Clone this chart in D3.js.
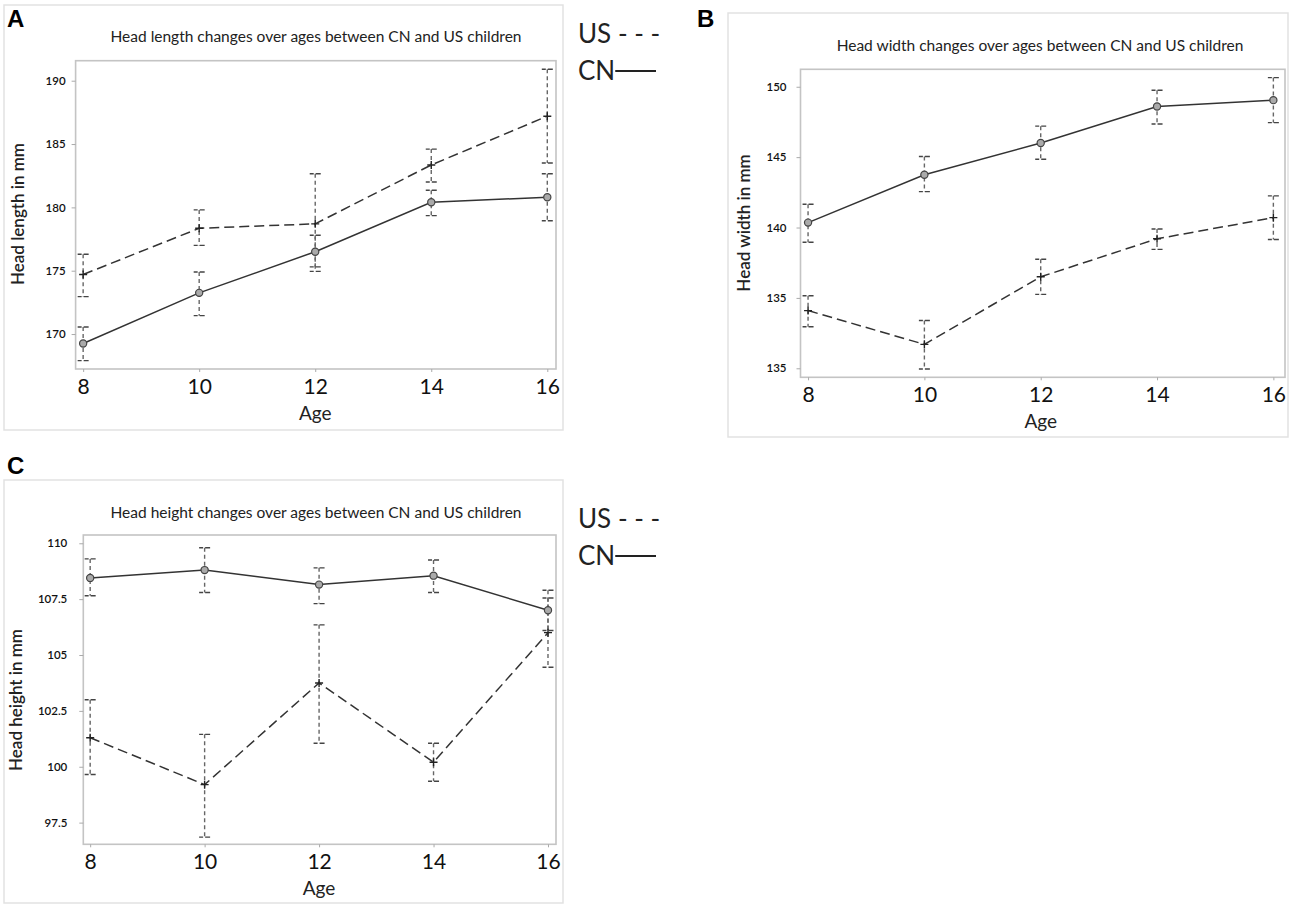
<!DOCTYPE html>
<html>
<head>
  <meta charset="utf-8"/>
  <title>Head size CN vs US</title>
  <script src="https://cdn.jsdelivr.net/npm/d3@7"></script>
  <style>
    body { margin: 0; background: #fff; }
    svg { display: block; }
    .title { font-family: Lato, "Open Sans", sans-serif; fill: #222; }
    .tick text { font-family: Lato, sans-serif; fill: #111; }
  </style>
</head>
<body>
<div id="chart"></div>
<script>

// ages on x axis
var ages = [8, 10, 12, 14, 16];

// panel A - head length (mm)
var lengthCN   = [169.25, 173.25, 176.5, 180.4, 180.8];
var lengthCNhi = [170.55, 174.9, 177.8, 181.35, 182.65];
var lengthCNlo = [167.9, 171.45, 175.3, 179.35, 178.95];
var lengthUS   = [174.7, 178.35, 178.7, 183.35, 187.2];
var lengthUShi = [176.3, 179.8, 182.65, 184.6, 190.9];
var lengthUSlo = [172.95, 177.0, 174.95, 182.0, 183.5];
var lengthTicks = [170, 175, 180, 185, 190];

// panel B - head width (mm)
var widthCN   = [140.35, 143.75, 146.0, 148.6, 149.05];
var widthCNhi = [141.65, 145.05, 147.2, 149.75, 150.65];
var widthCNlo = [138.95, 142.55, 144.85, 147.35, 147.45];
var widthUS   = [134.1, 131.7, 136.5, 139.2, 140.7];
var widthUShi = [135.15, 133.4, 137.75, 139.9, 142.25];
var widthUSlo = [132.95, 129.95, 135.25, 138.45, 139.15];
var widthTicks = [130, 135, 140, 145, 150];
var widthTickLabels = ["135", "135", "140", "145", "150"];

// panel C - head height (mm)
var heightCN   = [108.45, 108.8, 108.15, 108.55, 107.0];
var heightCNhi = [109.3, 109.8, 108.9, 109.25, 107.9];
var heightCNlo = [107.65, 107.8, 107.3, 107.8, 106.1];
var heightUS   = [101.3, 99.2, 103.75, 100.2, 106.0];
var heightUShi = [103.0, 101.45, 106.35, 101.05, 107.55];
var heightUSlo = [99.65, 96.85, 101.05, 99.35, 104.45];
var heightTicks = [97.5, 100, 102.5, 105, 107.5, 110];

var svg = d3.select("#chart").append("svg")
  .attr("width", 1290)
  .attr("height", 908);

// one panel of the figure
function panel(p){
  var g = svg.append("g");

  // outer light frame
  g.append("rect")
    .attr("x", p.frame[0]).attr("y", p.frame[1])
    .attr("width", p.frame[2] - p.frame[0]).attr("height", p.frame[3] - p.frame[1])
    .attr("fill", "none").attr("stroke", "#e2e2e2").attr("stroke-width", 1.5);

  // letter
  g.append("text")
    .attr("x", p.letter[0]).attr("y", p.letter[1])
    .attr("font-family", "Liberation Sans, Arial, sans-serif")
    .attr("font-weight", "bold").attr("font-size", 24)
    .text(p.letterText);

  g.append("text")
    .attr("class", "title")
    .attr("x", p.titlePos[0]).attr("y", p.titlePos[1])
    .attr("text-anchor", "middle").attr("font-size", 15.5)
    .text(p.title);

  var x = d3.scaleLinear().domain(p.xdom).range([p.plot[0], p.plot[2]]);
  var y = d3.scaleLinear().domain(p.ydom).range([p.plot[3], p.plot[1]]);

  g.append("rect")
    .attr("x", p.plot[0]).attr("y", p.plot[1])
    .attr("width", p.plot[2] - p.plot[0]).attr("height", p.plot[3] - p.plot[1])
    .attr("fill", "none").attr("stroke", "#c4c4c4").attr("stroke-width", 1.6);

  // y axis
  var ya = g.append("g")
    .attr("transform", "translate(" + p.plot[0] + ",0)")
    .call(d3.axisLeft(y).tickValues(p.yticks).tickSize(4).tickPadding(p.ypad)
      .tickFormat(function(d, i){ return p.ylabels ? p.ylabels[i] : d; }));
  ya.select(".domain").remove();
  ya.selectAll("line").attr("stroke", "#aaa");
  ya.selectAll("text").attr("font-size", 11.5).attr("font-weight", 600);

  // x axis
  var xa = g.append("g")
    .attr("transform", "translate(0," + p.plot[3] + ")")
    .call(d3.axisBottom(x).tickValues(ages).tickSize(3).tickPadding(7));
  xa.select(".domain").remove();
  xa.selectAll("line").attr("stroke", "#aaa");
  xa.selectAll("text").attr("font-size", 21);

  g.append("text")
    .attr("class", "title")
    .attr("x", (x(8) + x(16)) / 2).attr("y", p.plot[3] + 51)
    .attr("text-anchor", "middle").attr("font-size", 19)
    .text("Age");

  g.append("text")
    .attr("class", "title")
    .attr("transform", "translate(" + p.ylab[0] + "," + p.ylab[1] + ") rotate(-90)")
    .attr("text-anchor", "middle").attr("font-size", 17).attr("font-weight", 600)
    .text(p.ytitle);

  // error bars first, then lines and markers
  [["US", p.us], ["CN", p.cn]].forEach(function(s){
    var d = s[1];
    ages.forEach(function(a, i){
      g.append("line")
        .attr("x1", x(a)).attr("x2", x(a))
        .attr("y1", y(d.hi[i])).attr("y2", y(d.lo[i]))
        .attr("stroke", "#666").attr("stroke-width", 1.4)
        .attr("stroke-dasharray", "4,3");
      [d.hi[i], d.lo[i]].forEach(function(v){
        g.append("line")
          .attr("x1", x(a) - 5.5).attr("x2", x(a) + 5.5)
          .attr("y1", y(v)).attr("y2", y(v))
          .attr("stroke", "#444").attr("stroke-width", 1.4)
          .attr("stroke-dasharray", "4,2,5");
      });
    });
  });

  var line = d3.line().x(function(d){ return x(d[0]); }).y(function(d){ return y(d[1]); });

  g.append("path")
    .datum(d3.zip(ages, p.us.mean))
    .attr("d", line).attr("fill", "none")
    .attr("stroke", "#333").attr("stroke-width", 1.5)
    .attr("stroke-dasharray", "10,5");

  g.append("path")
    .datum(d3.zip(ages, p.cn.mean))
    .attr("d", line).attr("fill", "none")
    .attr("stroke", "#333").attr("stroke-width", 1.5);

  // markers
  ages.forEach(function(a, i){
    g.append("circle")
      .attr("cx", x(a)).attr("cy", y(p.cn.mean[i])).attr("r", 3.6)
      .attr("fill", "#aaa").attr("stroke", "#444").attr("stroke-width", 1.2);
    var ux = x(a), uy = y(p.us.mean[i]);
    g.append("path")
      .attr("d", "M" + (ux - 4) + "," + uy + "H" + (ux + 4) + "M" + ux + "," + (uy - 4) + "V" + (uy + 4))
      .attr("stroke", "#222").attr("stroke-width", 1.4);
  });
}

function legend(x0, y0){
  var g = svg.append("g").attr("class", "title").attr("font-size", 26);
  g.append("text").attr("x", x0).attr("y", y0).text("US - - -");
  var cn = g.append("text").attr("x", x0).attr("y", y0 + 37).text("CN");
  var w = cn.node().getComputedTextLength();
  g.append("line")
    .attr("x1", x0 + w).attr("x2", 656)
    .attr("y1", y0 + 28).attr("y2", y0 + 28)
    .attr("stroke", "#222").attr("stroke-width", 1.8);
}

panel({
  letterText: "A", letter: [7, 27],
  frame: [4, 5, 563, 430],
  plot: [75.6, 60.7, 556, 369],
  xdom: [7.87, 16.15], ydom: [167.24, 191.58],
  yticks: lengthTicks, ypad: 6,
  titlePos: [316, 42],
  title: "Head length changes over ages between CN and US children",
  ytitle: "Head length in mm", ylab: [24, 214],
  cn: { mean: lengthCN, hi: lengthCNhi, lo: lengthCNlo },
  us: { mean: lengthUS, hi: lengthUShi, lo: lengthUSlo }
});

panel({
  letterText: "B", letter: [697, 27],
  frame: [728, 13, 1288, 437],
  plot: [800.5, 69.3, 1285, 377.3],
  xdom: [7.87, 16.2], ydom: [129.36, 151.24],
  yticks: widthTicks, ylabels: widthTickLabels, ypad: 10,
  titlePos: [1040, 51],
  title: "Head width changes over ages between CN and US children",
  ytitle: "Head width in mm", ylab: [750, 223],
  cn: { mean: widthCN, hi: widthCNhi, lo: widthCNlo },
  us: { mean: widthUS, hi: widthUShi, lo: widthUSlo }
});

panel({
  letterText: "C", letter: [7, 474],
  frame: [4, 480, 563, 903],
  plot: [83.3, 535, 556, 844.3],
  xdom: [7.88, 16.14], ydom: [96.53, 110.37],
  yticks: heightTicks, ypad: 12,
  titlePos: [316, 518],
  title: "Head height changes over ages between CN and US children",
  ytitle: "Head height in mm", ylab: [22, 700],
  cn: { mean: heightCN, hi: heightCNhi, lo: heightCNlo },
  us: { mean: heightUS, hi: heightUShi, lo: heightUSlo }
});

legend(578, 43);
legend(578, 528);

</script>
</body>
</html>
